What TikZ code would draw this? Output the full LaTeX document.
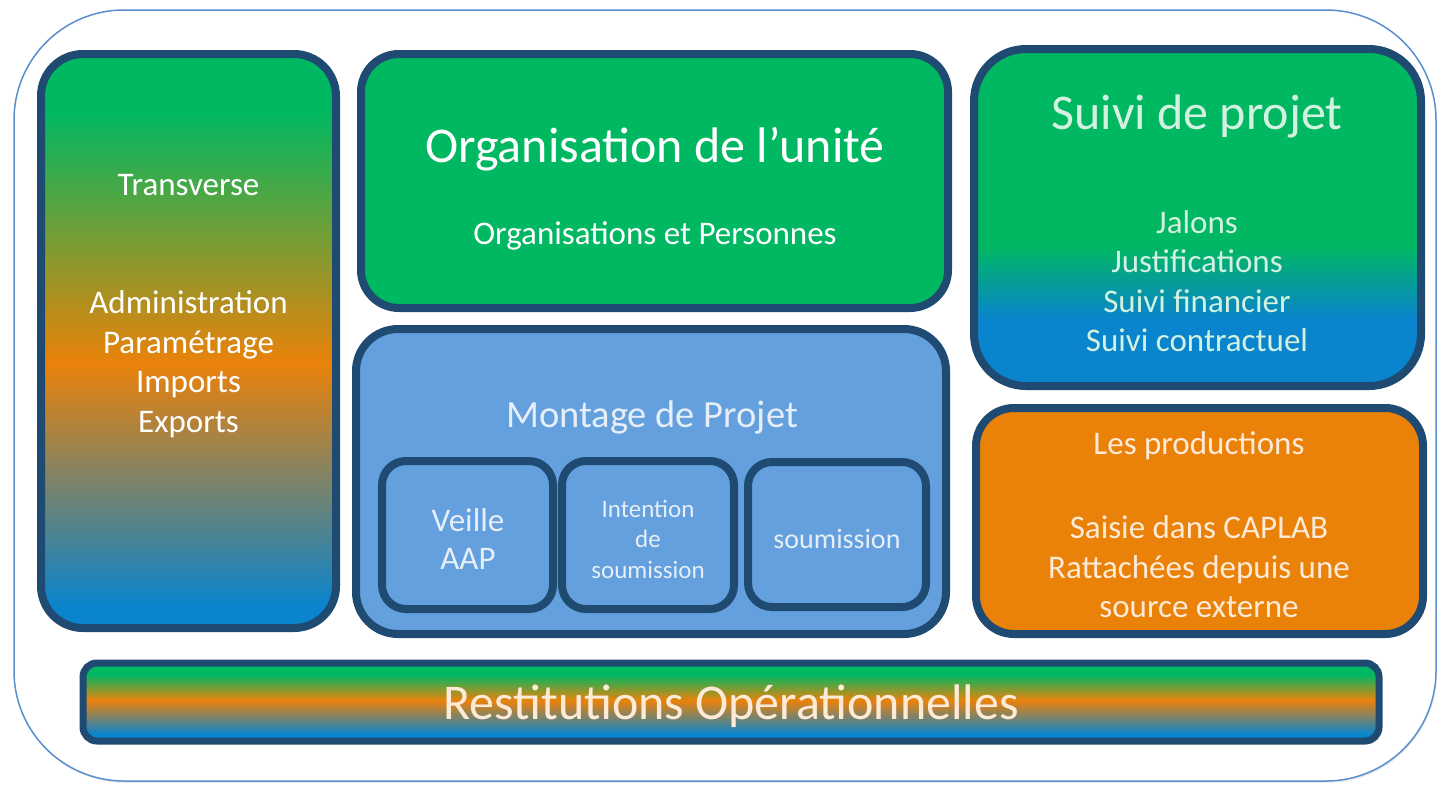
\documentclass[tikz,border=0pt]{standalone}
\usepackage{fontspec}
\setmainfont{Carlito}
\usetikzlibrary{shadows}
\definecolor{cadre}{HTML}{1F4A72}
\definecolor{bord}{HTML}{5A8FCF}
\definecolor{vert}{HTML}{00B861}
\definecolor{bleu}{HTML}{0A84CC}
\definecolor{orange}{HTML}{EA820A}
\definecolor{ciel}{HTML}{64A0DD}
\definecolor{txtvert}{HTML}{D2F1E0}
\definecolor{txtciel}{HTML}{E6EEF8}
\definecolor{txtorange}{HTML}{FDEBD8}
\pgfdeclareverticalshading{transgrad}{100bp}{color(0bp)=(bleu); color(27bp)=(bleu); color(48bp)=(orange); color(70bp)=(vert); color(100bp)=(vert)}
\pgfdeclareverticalshading{suivigrad}{100bp}{color(0bp)=(bleu); color(35bp)=(bleu); color(46bp)=(vert); color(100bp)=(vert)}
\pgfdeclareverticalshading{restgrad}{100bp}{color(0bp)=(bleu); color(29.5bp)=(bleu); color(51bp)=(orange); color(67.5bp)=(vert); color(100bp)=(vert)}
\begin{document}
\begin{tikzpicture}[x=1pt,y=-1pt,
	bloc/.style={draw=cadre,line width=8pt,inner sep=0pt,drop shadow={shadow xshift=2pt,shadow yshift=-3pt,opacity=.3}},
	txt/.style={text=white,align=center,font=\fontsize{33}{39.5}\selectfont},
	titre/.style={txt,font=\fontsize{50}{58}\selectfont}]
		\useasboundingbox (0,0) rectangle (1439,785);
		\draw[bord,fill=white,line width=1.5pt,rounded corners=110pt,drop shadow={shadow xshift=1pt,shadow yshift=-2pt,opacity=.15}] (14,10) rectangle (1436,781);
		% blocs
		\node[bloc,shading=transgrad,rounded corners=42pt,minimum width=295,minimum height=574] (trans) at (188.5,341) {};
		\node[bloc,fill=vert,rounded corners=38pt,minimum width=587,minimum height=254] (orga) at (654.5,181) {};
		\node[bloc,fill=ciel,rounded corners=42pt,minimum width=590,minimum height=305] (montage) at (651,481.5) {};
		\node[bloc,fill=ciel,rounded corners=24pt,minimum width=171,minimum height=148] (veille) at (467.5,535) {};
		\node[bloc,fill=ciel,rounded corners=24pt,minimum width=172,minimum height=148] (intention) at (648,535) {};
		\node[bloc,fill=ciel,rounded corners=24pt,minimum width=178,minimum height=145] (soumission) at (837,534.5) {};
		\node[bloc,shading=suivigrad,rounded corners=52pt,minimum width=447,minimum height=337] (suivi) at (1197.5,217.5) {};
		\node[bloc,fill=orange,rounded corners=38pt,minimum width=447,minimum height=226] (prod) at (1199.5,521) {};
		\node[bloc,shading=restgrad,line width=7pt,rounded corners=14pt,minimum width=1296,minimum height=78] (rest) at (731,702) {};
		% textes
		\node[txt] (transT) at (188.5,185) {Transverse};
		\node[txt] (transL) at (188.5,364) {Administration\\Paramétrage\\Imports\\Exports};
		\node[titre] (orgaT) at (655,149) {Organisation de l’unité};
		\node[txt] (orgaL) at (655,236) {Organisations et Personnes};
		\node[titre,text=txtvert] (suiviT) at (1197,116) {Suivi de projet};
		\node[txt,text=txtvert] (suiviL) at (1197,281) {Jalons\\Justifications\\Suivi financier\\Suivi contractuel};
		\node[txt,text=txtciel,font=\fontsize{38.5}{44}\selectfont] (montageT) at (652,417) {Montage de Projet};
		\node[txt,text=txtciel,font=\fontsize{33}{38}\selectfont] (veilleT) at (468,539) {Veille\\AAP};
		\node[txt,text=txtciel,font=\fontsize{25}{30.5}\selectfont] (intentionT) at (648,539) {Intention\\de\\soumission};
		\node[txt,text=txtciel,font=\fontsize{28}{32}\selectfont] (soumissionT) at (837,539) {soumission};
		\node[txt,text=txtorange] (prodT) at (1199,446) {Les productions};
		\node[txt,text=txtorange] (prodL) at (1199,567) {Saisie dans CAPLAB\\Rattachées depuis une\\source externe};
		\node[titre,text=txtorange] (restT) at (731,706) {Restitutions Opérationnelles};
\end{tikzpicture}
\end{document}
